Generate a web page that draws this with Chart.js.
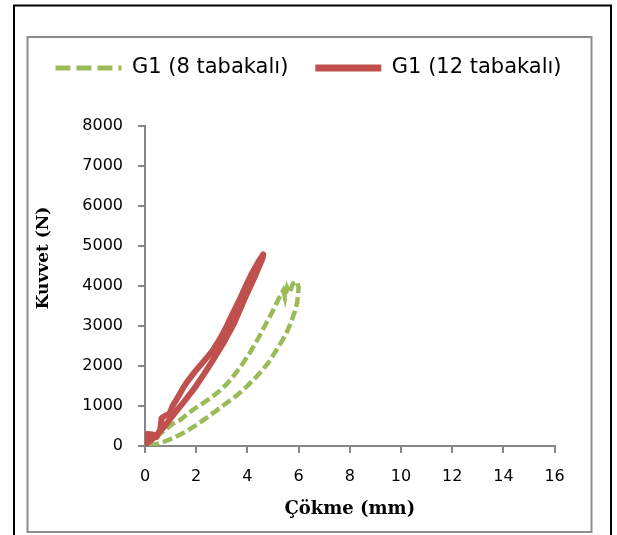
<!DOCTYPE html>
<html>
<head>
<meta charset="utf-8">
<script src="https://cdn.jsdelivr.net/npm/chart.js@4.4.1/dist/chart.umd.min.js"></script>
<style>
  body { margin: 0; background: #fff; }
  canvas { display: block; }
</style>
</head>
<body>
<canvas id="myChart" width="617" height="535"></canvas>
<script>
// series names
var seriesNames = ["G1 (8 tabakalı)", "G1 (12 tabakalı)"];

// G1 8 tabakali - up the left branch to the peak, back down the right one
var g8X = [0, 0.35, 0.75, 1.1, 1.4, 1.7, 2.0, 2.3, 2.6, 2.9, 3.2, 3.5, 3.8, 4.1, 4.4, 4.7, 5.0, 5.2, 5.4, 5.47, 5.55, 5.65, 5.78, 5.95,
           6.0, 5.95, 5.85, 5.7, 5.5, 5.2, 4.8, 4.4, 4.0, 3.6, 3.2, 2.8, 2.4, 2.0, 1.6, 1.2, 0.8, 0.4, 0];
var g8Y = [0, 170, 390, 560, 660, 820, 960, 1080, 1210, 1370, 1550, 1780, 2040, 2330, 2660, 3020, 3380, 3650, 3880, 3700, 3950, 3820, 4050, 4100,
           3950, 3600, 3350, 3080, 2780, 2460, 2060, 1760, 1500, 1270, 1080, 890, 700, 520, 360, 230, 120, 40, 0];

// G1 12 tabakali
var g12X = [0, 0.1, 0.3, 0.45, 0.6, 0.65, 0.8, 0.95, 1.08, 1.2, 1.34, 1.5, 1.6, 1.75, 1.86, 2.05, 2.25, 2.45, 2.64, 2.85, 3.03, 3.2, 3.42, 3.7, 3.94, 4.2, 4.45, 4.62,
            4.59, 4.26, 3.87, 3.48, 3.09, 2.7, 2.31, 1.92, 1.53, 1.14, 0.75, 0.36, 0];
var g12Y = [150, 300, 290, 230, 420, 700, 760, 800, 1000, 1130, 1280, 1460, 1560, 1690, 1780, 1930, 2080, 2230, 2380, 2590, 2790, 3000, 3300, 3660, 4000, 4340, 4620, 4780,
            4680, 4185, 3645, 3060, 2600, 2190, 1800, 1430, 1110, 800, 480, 210, 30];

var xTitle = "Çökme (mm)";
var yTitle = "Kuvvet (N)";

function toPoints(xs, ys) {
    return xs.map(function (x, i) { return {x: x, y: ys[i]}; });
}

var axisGray = '#868686';

// frames round the chart, and the y title (sits a bit above the middle)
var extras = {
    id: 'extras',
    beforeInit: function (chart) {
        var lg = chart.legend;
        var fit = lg.fit;
        lg.fit = function () {
            var mw = this.maxWidth;
            this.maxWidth = 700; // keep both items on one row
            fit.call(this);
            this.maxWidth = mw;
            this.width = mw;
            this.height += 37;
        };
        var draw = lg.draw;
        lg.draw = function () {
            var l = this.left, r = this.right;
            this.left = 0;
            this.right = chart.width;
            draw.call(this);
            this.left = l;
            this.right = r;
        };
    },
    beforeDraw: function (chart) {
        var c = chart.ctx;
        c.save();
        c.lineWidth = 2;
        c.strokeStyle = '#000';
        c.strokeRect(14, 5.5, 597, 545);
        c.strokeStyle = '#8c8c8c';
        c.strokeRect(27.5, 37, 564, 495);
        c.restore();
    },
    afterDraw: function (chart) {
        var c = chart.ctx;
        c.save();
        c.translate(44, 258);
        c.rotate(-Math.PI / 2);
        c.font = 'bold 17px "DejaVu Serif"';
        c.fillStyle = '#000';
        c.textAlign = 'center';
        c.textBaseline = 'middle';
        c.fillText(yTitle, 0, 0);
        c.restore();
    }
};

var legendLine = [5, 7];
var legendDash = [[15, 6], []];

function plain(v) { return String(v); }

var ctx = document.getElementById('myChart').getContext('2d');
var chart = new Chart(ctx, {
    type: 'scatter',
    data: {
        datasets: [{
            label: seriesNames[0],
            data: toPoints(g8X, g8Y),
            showLine: true,
            borderColor: '#9BBB59',
            backgroundColor: '#9BBB59',
            borderWidth: 4.5,
            borderDash: [10, 4],
            pointRadius: 0,
            order: 1
        }, {
            label: seriesNames[1],
            data: toPoints(g12X, g12Y),
            showLine: true,
            borderColor: '#C0504D',
            backgroundColor: '#C0504D',
            borderWidth: 6,
            borderJoinStyle: 'round',
            borderCapStyle: 'round',
            pointRadius: 0,
            order: 0
        }]
    },
    options: {
        responsive: false,
        animation: false,
        layout: {padding: {left: 60, right: 62.4, top: 30.5, bottom: 0}},
        plugins: {
            tooltip: {enabled: false},
            legend: {
                position: 'top',
                labels: {
                    usePointStyle: true,
                    pointStyle: 'line',
                    pointStyleWidth: 66,
                    padding: 27,
                    color: '#000',
                    font: {family: 'DejaVu Sans', size: 21},
                    sort: function (a, b) { return a.datasetIndex - b.datasetIndex; },
                    generateLabels: function (chart) {
                        var items = Chart.defaults.plugins.legend.labels.generateLabels(chart);
                        items.forEach(function (it) {
                            it.lineWidth = legendLine[it.datasetIndex];
                            it.lineDash = legendDash[it.datasetIndex];
                            it.lineDashOffset = 0;
                            it.lineCap = 'butt';
                            it.pointStyle = 'line';
                        });
                        return items;
                    }
                }
            }
        },
        scales: {
            x: {
                type: 'linear',
                min: 0,
                max: 16,
                afterFit: function (s) { s.height = 89; },
                ticks: {stepSize: 2, padding: 14, color: '#000', font: {family: 'DejaVu Sans', size: 16}, callback: plain},
                grid: {drawOnChartArea: false, tickLength: 7, color: axisGray, lineWidth: 2},
                border: {color: axisGray, width: 2},
                title: {display: true, text: xTitle, color: '#000', padding: {top: 0, bottom: 15},
                        font: {family: 'DejaVu Serif', size: 18, weight: 'bold'}}
            },
            y: {
                min: 0,
                max: 8000,
                afterFit: function (s) { s.width = 85; },
                ticks: {stepSize: 1000, padding: 15, color: '#000', font: {family: 'DejaVu Sans', size: 16}, callback: plain},
                grid: {drawOnChartArea: false, tickLength: 7, color: axisGray, lineWidth: 2},
                border: {color: axisGray, width: 2}
            }
        }
    },
    plugins: [extras]
});
</script>
</body>
</html>
